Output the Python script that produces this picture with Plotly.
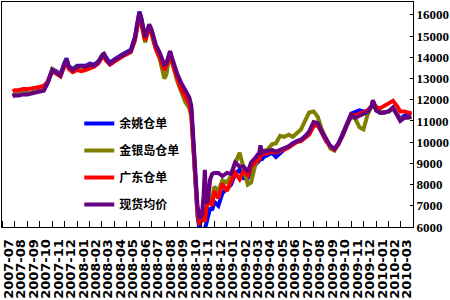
import plotly.graph_objects as go

dates = [
    "2007-07-27", "2007-08-01", "2007-08-11", "2007-08-21", "2007-09-01", "2007-09-11", "2007-09-21",
    "2007-10-01", "2007-10-11", "2007-10-21", "2007-11-01", "2007-11-11", "2007-11-21",
    "2007-12-01", "2007-12-06", "2007-12-11", "2007-12-21",
    "2008-01-01", "2008-01-11", "2008-01-21", "2008-02-01", "2008-02-11", "2008-02-21",
    "2008-03-01", "2008-03-06", "2008-03-11", "2008-03-21",
    "2008-04-01", "2008-04-11", "2008-04-21", "2008-05-01", "2008-05-11", "2008-05-21", "2008-05-26",
    "2008-06-01", "2008-06-05", "2008-06-11", "2008-06-15", "2008-06-21", "2008-06-25",
    "2008-07-01", "2008-07-06", "2008-07-11", "2008-07-21",
    "2008-08-01", "2008-08-06", "2008-08-11", "2008-08-15", "2008-08-21", "2008-08-26",
    "2008-09-01", "2008-09-11", "2008-09-21",
    "2008-10-01", "2008-10-06", "2008-10-11", "2008-10-16", "2008-10-21", "2008-10-26",
    "2008-11-01", "2008-11-05", "2008-11-08", "2008-11-12", "2008-11-16", "2008-11-21", "2008-11-26",
    "2008-12-01", "2008-12-11", "2008-12-21",
    "2009-01-01", "2009-01-11", "2009-01-21", "2009-02-01", "2009-02-11", "2009-02-21",
    "2009-03-01", "2009-03-11", "2009-03-21", "2009-03-24", "2009-03-28",
    "2009-04-01", "2009-04-11", "2009-04-21", "2009-05-01", "2009-05-11", "2009-05-21",
    "2009-06-01", "2009-06-11", "2009-06-21", "2009-07-01", "2009-07-11", "2009-07-21",
    "2009-08-01", "2009-08-11", "2009-08-21", "2009-09-01", "2009-09-11", "2009-09-21",
    "2009-10-01", "2009-10-11", "2009-10-21", "2009-11-01", "2009-11-11", "2009-11-21",
    "2009-12-01", "2009-12-11", "2009-12-21", "2009-12-24",
    "2010-01-01", "2010-01-11", "2010-01-21", "2010-02-01", "2010-02-11", "2010-02-21",
    "2010-03-01", "2010-03-11", "2010-03-21", "2010-03-28",
]

spot_avg = [  # 现货均价
    12150, 12200, 12200, 12250, 12250, 12280, 12320,
    12380, 12420, 12800, 13400, 13300, 13150,
    13700, 13900, 13550, 13400,
    13550, 13600, 13550, 13650, 13600, 13750,
    14050, 14150, 13950, 13700,
    13880, 14000, 14100, 14200, 14300, 14900, 15500,
    16100, 15900, 15300, 14950, 15300, 15550,
    15300, 14950, 14600, 14200,
    13650, 13700, 14000, 14300, 13900, 13600,
    13250, 12800, 12450,
    12100, 11700, 10100, 8600, 7000, 6400,
    6600, 7500, 8700, 7100, 7300, 8250, 8500,
    8550, 8550, 8400,
    8550, 8500, 9040, 8850, 8850, 8600,
    9040, 9250, 9500, 9850, 9500,
    9550, 9580, 9630, 9550, 9640, 9690,
    9800, 9950, 10030, 10110, 10260, 10500,
    10950, 10900, 10500, 10100, 9820, 9680,
    9950, 10330, 10820, 11270, 11150, 11250,
    11300, 11420, 11700, 11980,
    11500, 11380, 11400, 11460, 11640, 11250,
    11000, 11150, 11150, 11190,
]

guangdong = [  # 广东仓单
    12400, 12450, 12450, 12500, 12500, 12520, 12550,
    12600, 12650, 12850, 13350, 13250, 13100,
    13600, 13850, 13450, 13300,
    13400, 13350, 13400, 13500, 13550, 13700,
    13950, 14100, 13850, 13650,
    13800, 13950, 14050, 14150, 14250, 14800, 15400,
    16000, 15700, 15100, 14800, 15200, 15450,
    15100, 14800, 14400, 14000,
    13400, 13600, 13900, 14200, 13700, 13400,
    13000, 12500, 12150,
    11800, 11300, 9600, 8000, 6800, 6100,
    6600, 6500, 6250, 6900, 7200, 7200, 7000,
    7700, 7350, 8050,
    7700, 8150, 8550, 8250, 8650, 8450,
    8850, 9050, 9200, 9350, 9400,
    9450, 9500, 9550, 9500, 9600, 9650,
    9750, 9900, 10000, 10050, 10200, 10350,
    10750, 10800, 10450, 10050, 9800, 9650,
    9900, 10300, 10800, 11300, 11250, 11350,
    11400, 11500, 11700, 11900,
    11650, 11600, 11700, 11800, 11950, 11700,
    11450, 11450, 11400, 11350,
]

jinyindao = [  # 金银岛仓单
    12200, 12250, 12250, 12300, 12300, 12320, 12350,
    12400, 12450, 12800, 13450, 13300, 13150,
    13700, 13900, 13550, 13450,
    13550, 13550, 13550, 13650, 13600, 13750,
    14100, 14150, 13900, 13700,
    13850, 14000, 14100, 14200, 14300, 14800, 15400,
    16000, 15600, 15000, 14700, 15150, 15450,
    15100, 14700, 14400, 13900,
    13000, 13200, 13800, 14200, 13700, 13300,
    12900, 12400, 11900,
    11600, 11200, 9700, 8100, 6700, 6150,
    6300, 6600, 6500, 7000, 7300, 7400, 7300,
    7900, 7700, 8200,
    8100, 8400, 9000, 9500, 8700, 8000,
    8100, 8900, 9300, 9500, 9500,
    9600, 9650, 9900, 9950, 10300, 10250,
    10350, 10250, 10400, 10600, 11000, 11400,
    11450, 11200, 10600, 10100, 9700, 9600,
    9950, 10300, 10800, 11200, 11100, 10700,
    10600, 11300, 11700, 11900,
    11500, 11400, 11400, 11450, 11600, 11250,
    11050, 11150, 11150, 11200,
]

yuyao = [  # 余姚仓单
    12200, 12250, 12250, 12300, 12300, 12330, 12370,
    12420, 12460, 12850, 13450, 13350, 13200,
    13750, 13950, 13600, 13450,
    13600, 13600, 13600, 13700, 13650, 13800,
    14100, 14200, 14000, 13750,
    13900, 14050, 14150, 14250, 14350, 14950, 15550,
    16150, 15900, 15250, 14900, 15300, 15500,
    15200, 14850, 14500, 14100,
    13500, 13650, 13950, 14250, 13800, 13500,
    13150, 12700, 12350,
    12000, 11500, 9800, 8200, 6500, 5900,
    5850, 5900, 5900, 6200, 6500, 6900, 6800,
    7200, 7000, 7600,
    7800, 8000, 8500, 8700, 8300, 8300,
    8700, 8900, 9100, 9200, 9200,
    9300, 9400, 9500, 9300, 9500, 9650,
    9800, 9950, 10050, 10100, 10250, 10450,
    10900, 10850, 10450, 10050, 9800, 9650,
    9950, 10350, 10850, 11350, 11450, 11500,
    11450, 11450, 11700, 11950,
    11500, 11400, 11400, 11450, 11600, 11300,
    11100, 11250, 11350, 11400,
]

series_names = ["余姚仓单", "金银岛仓单", "广东仓单", "现货均价"]
series_values = [yuyao, jinyindao, guangdong, spot_avg]
series_colors = ["#0000FF", "#808000", "#FF0000", "#660080"]

fig = go.Figure()
for i, (name, vals, col) in enumerate(zip(series_names, series_values, series_colors)):
    fig.add_trace(go.Scatter(
        x=dates, y=vals, mode="lines", name=name,
        line=dict(color=col, width=4),
        legendgroup=f"g{i}",
    ))

fig.update_layout(
    width=450, height=300,
    margin=dict(l=1, r=37, t=1, b=72),
    paper_bgcolor="white", plot_bgcolor="white",
    showlegend=True,
    legend=dict(
        x=0.188, y=0.524, xanchor="left", yanchor="top",
        bgcolor="rgba(0,0,0,0)",
        font=dict(family="Noto Sans CJK SC", size=12, color="black", weight="bold"),
        tracegroupgap=8,
        itemwidth=30,
    ),
    xaxis=dict(
        type="date",
        range=["2007-07-01", "2010-04-01"],
        dtick="M1", tick0="2007-07-01",
        tickformat="%Y-%m",
        ticklabelmode="period",
        tickangle=-90,
        ticks="inside", ticklen=6, tickcolor="black",
        showline=True, linecolor="black", linewidth=1, mirror=True,
        showgrid=False, zeroline=False,
        tickfont=dict(family="DejaVu Sans", size=13, color="black", weight="bold"),
        ticklabelstandoff=6,
    ),
    yaxis=dict(
        side="right",
        range=[6000, 16607],
        dtick=1000, tick0=6000,
        tickformat="d",
        ticks="inside", ticklen=3, tickcolor="black",
        showline=True, linecolor="black", linewidth=1, mirror=True,
        showgrid=False, zeroline=False,
        tickfont=dict(family="Liberation Serif", size=13, color="black", weight="bold"),
    ),
)

fig.write_html("out.html")
